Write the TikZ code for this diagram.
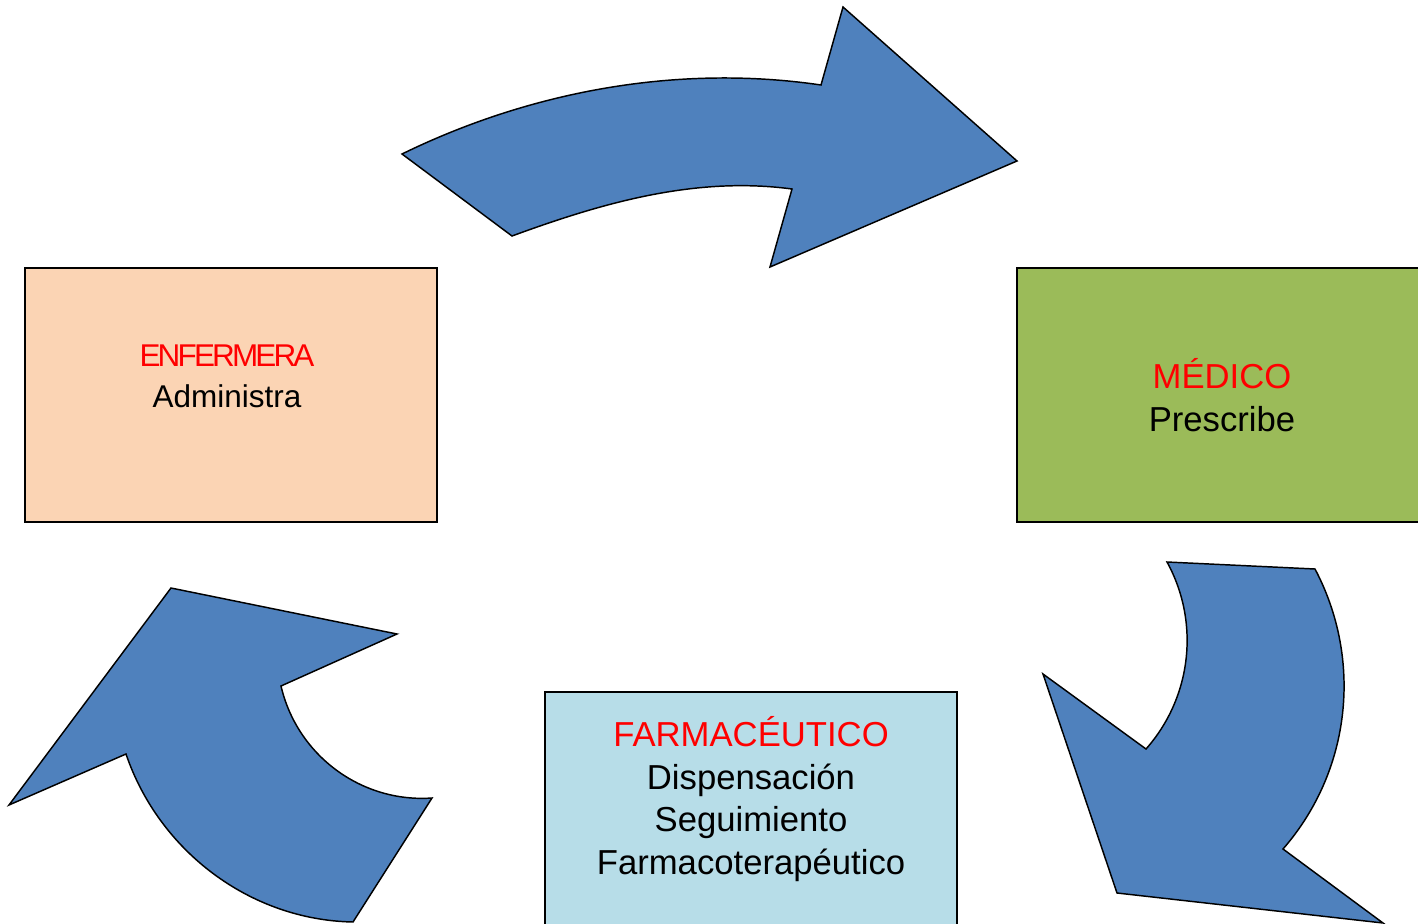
\documentclass[tikz,border=0pt]{standalone}
\usepackage{fontspec}
\setmainfont{Liberation Sans}
\usetikzlibrary{positioning}

\definecolor{cycleblue}{HTML}{4F81BD}
\definecolor{nursepeach}{HTML}{FBD4B4}
\definecolor{doctorgreen}{HTML}{9BBB59}
\definecolor{pharmablue}{HTML}{B7DDE8}

\begin{document}
\begin{tikzpicture}[x=0.75pt, y=-0.75pt,
    cyclearrow/.style={draw=black, line width=1.1pt, fill=cycleblue, line join=miter},
    rolebox/.style={draw=black, line width=1pt, minimum width=309pt, minimum height=190.5pt, inner sep=0pt},
    roletext/.style={align=center, font=\fontsize{26}{32}\selectfont}]
    \useasboundingbox (0,0) rectangle (1418,924);
    \clip (0,0) rectangle (1418,924);

    % Role boxes
    \node[rolebox, fill=nursepeach] (nurse) at (231,395) {};
    \node[roletext, font=\fontsize{23.6}{30.8}\selectfont] (nursetext) at (227,376)
        {\textcolor{red}{\addfontfeature{LetterSpace=-9}ENFERMERA}\\Administra};

    \node[rolebox, fill=doctorgreen] (doctor) at (1223,395) {};
    \node[roletext] (doctortext) at (1222,395) {\textcolor{red}{MÉDICO}\\Prescribe};

    \node[rolebox, fill=pharmablue] (pharma) at (751,819) {};
    \node[roletext] (pharmatext) at (751,799) {\textcolor{red}{FARMACÉUTICO}\\Dispensación\\Seguimiento\\Farmacoterapéutico};

    % Arrow: nurse -> doctor (top)
    \draw[cyclearrow] (402,154) .. controls (531,91) and (678,64) .. (821,85)
        -- (843,7) -- (1017,161) -- (770,267) -- (792,189)
        .. controls (695,176) and (602,203) .. (512,236) -- cycle;

    % Arrow: doctor -> pharmacist (right)
    \draw[cyclearrow] (1146,749) .. controls (1192,697) and (1200,622) .. (1167,562)
        -- (1315,569) .. controls (1363,660) and (1351,771) .. (1283,849)
        -- (1383,923) -- (1117,893) -- (1043,674) -- cycle;

    % Arrow: pharmacist -> nurse (left)
    \draw[cyclearrow] (171,588) -- (397,634) -- (281,686)
        .. controls (297,755) and (361,803) .. (432,798)
        -- (353,922) .. controls (250,920) and (159,851) .. (126,754)
        -- (9,805) -- cycle;
\end{tikzpicture}
\end{document}
